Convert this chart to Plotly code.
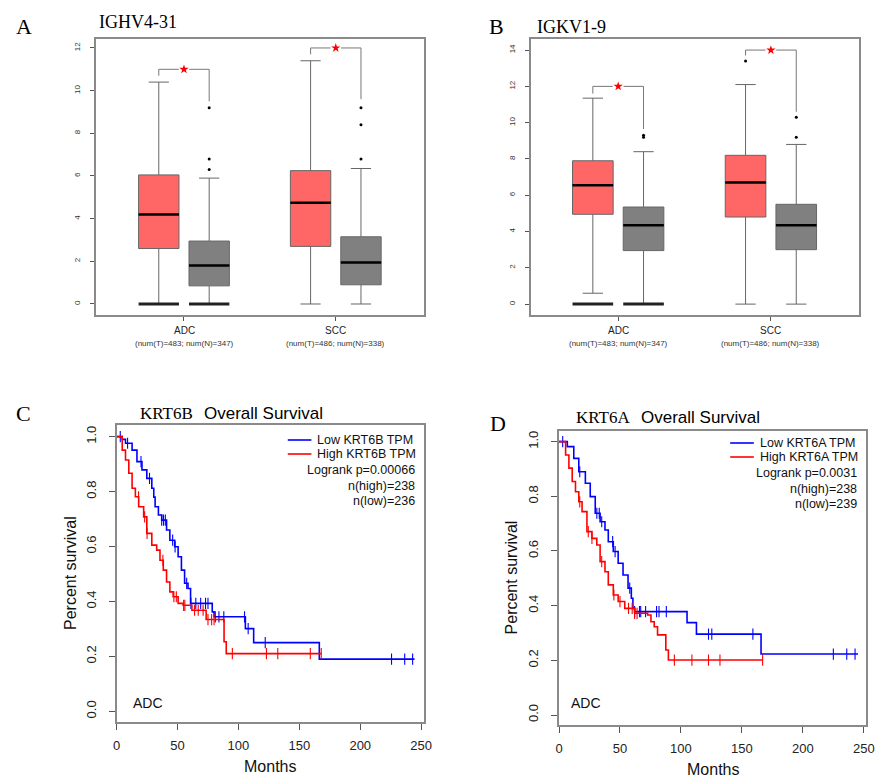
import plotly.graph_objects as go

W, H = 885, 778

# ---------------- DATA ----------------
box_categories = ["ADC", "SCC"]
box_sublabels = ["(num(T)=483; num(N)=347)", "(num(T)=486; num(N)=338)"]

# Panel A: IGHV4-31
A_gene = "IGHV4-31"
A_tumor_q1 = [2.6, 2.7]
A_tumor_med = [4.2, 4.75]
A_tumor_q3 = [6.05, 6.25]
A_tumor_lo = [0.0, 0.0]
A_tumor_hi = [10.4, 11.4]
A_tumor_out = [[], []]
A_normal_q1 = [0.85, 0.9]
A_normal_med = [1.8, 1.95]
A_normal_q3 = [2.95, 3.15]
A_normal_lo = [0.0, 0.0]
A_normal_hi = [5.9, 6.35]
A_normal_out = [[6.3, 6.8, 9.2], [6.8, 8.4, 9.2]]
A_zero_heavy = [True, False]
A_bracket = [11.0, 12.0]
A_bracket_left_end = [10.7, 11.7]
A_bracket_right_end = [9.5, 9.6]
A_yticks = [0, 2, 4, 6, 8, 10, 12]

# Panel B: IGKV1-9
B_gene = "IGKV1-9"
B_tumor_q1 = [4.95, 4.8]
B_tumor_med = [6.55, 6.7]
B_tumor_q3 = [7.9, 8.2]
B_tumor_lo = [0.6, 0.0]
B_tumor_hi = [11.35, 12.1]
B_tumor_out = [[], [13.4]]
B_normal_q1 = [2.95, 3.0]
B_normal_med = [4.35, 4.35]
B_normal_q3 = [5.35, 5.5]
B_normal_lo = [0.0, 0.0]
B_normal_hi = [8.4, 8.8]
B_normal_out = [[9.2, 9.3], [9.2, 10.3]]
B_zero_heavy = [True, False]
B_bracket = [12.0, 14.0]
B_bracket_left_end = [11.6, 13.7]
B_bracket_right_end = [9.65, 10.6]
B_yticks = [0, 2, 4, 6, 8, 10, 12, 14]

# Panel C: KRT6B overall survival
C_gene = "KRT6B"
C_low_t = [0, 4.6, 7.3, 12.7, 16.7, 20.8, 24.8, 28.9, 30.5, 31.6, 34.3, 37, 41, 43.7, 47.7, 50.5,
           53.2, 55.8, 58.6, 60.7, 78.5, 80, 105.7, 112.5, 166.4, 244.6]
C_low_s = [1.0, 0.99, 0.976, 0.951, 0.909, 0.879, 0.848, 0.812, 0.78, 0.745, 0.715, 0.696, 0.66, 0.623,
           0.599, 0.5625, 0.514, 0.466, 0.447, 0.393, 0.362, 0.344, 0.301, 0.25, 0.19, 0.19]
C_low_cens = [3, 9, 20, 27, 37, 38.5, 40, 46, 48, 57.5, 61, 65, 69, 73, 75, 81, 84, 88, 105, 108, 122,
              225.7, 236.5, 243]
C_high_t = [0, 4.6, 7.3, 10, 12.7, 15.4, 18.1, 22.2, 24.8, 28.9, 32.9, 35.6, 38.3, 41, 43.7, 46.4,
            50.5, 54.6, 61.8, 73.5, 88.2, 90, 168]
C_high_s = [1.0, 0.951, 0.915, 0.867, 0.812, 0.781, 0.745, 0.708, 0.648, 0.605, 0.587, 0.55, 0.514,
            0.471, 0.435, 0.417, 0.393, 0.386, 0.368, 0.334, 0.253, 0.21, 0.21]
C_high_cens = [18, 23, 25, 38, 47, 49, 55, 56, 64, 67, 71, 75, 78, 80, 95, 123, 132.3, 159, 168]
C_legend = ["Low KRT6B TPM", "High KRT6B TPM"]
C_stats = ["Logrank p=0.00066", "n(high)=238", "n(low)=236"]

# Panel D: KRT6A overall survival
D_gene = "KRT6A"
D_low_t = [0, 6.8, 12.1, 16.2, 21.6, 25.6, 29.7, 33.7, 37.7, 40.4, 44.5, 48.5, 52.5, 56.6, 59.3,
           60.6, 62, 105, 112.7, 165.7, 245.2]
D_low_s = [1.0, 0.982, 0.939, 0.89, 0.848, 0.799, 0.738, 0.707, 0.677, 0.634, 0.598, 0.555, 0.512,
           0.464, 0.427, 0.39, 0.378, 0.338, 0.296, 0.223, 0.223]
D_low_cens = [3, 17, 31, 33, 35, 44, 46, 58, 62, 66, 67, 71, 80, 82, 88, 122.6, 125.3, 159, 225, 236,
              242.8]
D_high_t = [0, 5.4, 8.1, 10.8, 13.5, 16.2, 18.9, 22.9, 27, 31, 33.7, 37.7, 40.4, 44.5, 48.5, 53.9,
            62, 72.7, 75.4, 78.1, 80.8, 87.6, 89.7, 167]
D_high_s = [1.0, 0.951, 0.903, 0.854, 0.817, 0.78, 0.744, 0.671, 0.646, 0.622, 0.561, 0.524, 0.476,
            0.439, 0.415, 0.39, 0.372, 0.366, 0.341, 0.323, 0.293, 0.238, 0.201, 0.201]
D_high_cens = [17, 24, 27, 35, 45, 50, 57, 60, 62, 64, 94.6, 109, 122.6, 132, 167]
D_legend = ["Low KRT6A TPM", "High KRT6A TPM"]
D_stats = ["Logrank p=0.0031", "n(high)=238", "n(low)=239"]

km_xticks = [0, 50, 100, 150, 200, 250]
km_yticks = [0.0, 0.2, 0.4, 0.6, 0.8, 1.0]

# ---------------- STYLE ----------------
SANS = "Liberation Sans, Arial, sans-serif"
SERIF = "Liberation Serif, Times New Roman, serif"
RED_FILL = "#FF6666"
GRAY_FILL = "#808080"
FRAME = "#8a8a8a"
OFF = 0.166
BW = 0.266


def px(x):
    return x / W


def py(y):
    return 1 - y / H


fig = go.Figure()


def add_boxpanel(xa, ya, t_q1, t_med, t_q3, t_lo, t_hi, t_out,
                 n_q1, n_med, n_q3, n_lo, n_hi, n_out, zero_heavy,
                 bracket, b_left, b_right):
    xs = list(range(len(box_categories)))
    groups = [(-OFF, RED_FILL, t_q1, t_med, t_q3, t_lo, t_hi, t_out),
              (OFF, GRAY_FILL, n_q1, n_med, n_q3, n_lo, n_hi, n_out)]
    for off, fill, q1, med, q3, lo, hi, outs in groups:
        pos = [x + off for x in xs]
        fig.add_trace(go.Box(
            x=pos, q1=q1, median=med, q3=q3, lowerfence=lo, upperfence=hi,
            width=BW, whiskerwidth=0.5, fillcolor=fill,
            line=dict(color="#666666", width=1), boxpoints=False,
            xaxis=xa, yaxis=ya, showlegend=False, hoverinfo="skip"))
        mx, my = [], []
        for p, m in zip(pos, med):
            mx += [p - BW / 2, p + BW / 2, None]
            my += [m, m, None]
        fig.add_trace(go.Scatter(x=mx, y=my, mode="lines",
                                 line=dict(color="black", width=2.5),
                                 xaxis=xa, yaxis=ya, showlegend=False, hoverinfo="skip"))
        zx, zy = [], []
        for p, hv in zip(pos, zero_heavy):
            if hv:
                zx += [p - BW / 2, p + BW / 2, None]
                zy += [0, 0, None]
        if zx:
            fig.add_trace(go.Scatter(x=zx, y=zy, mode="lines",
                                     line=dict(color="#222222", width=3),
                                     xaxis=xa, yaxis=ya, showlegend=False, hoverinfo="skip"))
        ox, oy = [], []
        for p, o in zip(pos, outs):
            ox += [p] * len(o)
            oy += o
        if ox:
            fig.add_trace(go.Scatter(x=ox, y=oy, mode="markers",
                                     marker=dict(color="black", size=3),
                                     xaxis=xa, yaxis=ya, showlegend=False, hoverinfo="skip"))
    bx, by, sx, sy = [], [], [], []
    gap = 0.035
    for x, b, le, re in zip(xs, bracket, b_left, b_right):
        l, r = x - OFF, x + OFF
        bx += [l, l, x - gap, None, x + gap, r, r, None]
        by += [le, b, b, None, b, b, re, None]
        sx.append(x)
        sy.append(b)
    fig.add_trace(go.Scatter(x=bx, y=by, mode="lines", line=dict(color="#777777", width=1),
                             xaxis=xa, yaxis=ya, showlegend=False, hoverinfo="skip"))
    fig.add_trace(go.Scatter(x=sx, y=sy, mode="markers",
                             marker=dict(symbol="star", color="red", size=7),
                             xaxis=xa, yaxis=ya, showlegend=False, hoverinfo="skip"))


add_boxpanel("x", "y", A_tumor_q1, A_tumor_med, A_tumor_q3, A_tumor_lo, A_tumor_hi, A_tumor_out,
             A_normal_q1, A_normal_med, A_normal_q3, A_normal_lo, A_normal_hi, A_normal_out,
             A_zero_heavy, A_bracket, A_bracket_left_end, A_bracket_right_end)
add_boxpanel("x2", "y2", B_tumor_q1, B_tumor_med, B_tumor_q3, B_tumor_lo, B_tumor_hi, B_tumor_out,
             B_normal_q1, B_normal_med, B_normal_q3, B_normal_lo, B_normal_hi, B_normal_out,
             B_zero_heavy, B_bracket, B_bracket_left_end, B_bracket_right_end)


def step_at(ts, ss, t):
    v = ss[0]
    for ti, si in zip(ts, ss):
        if ti <= t:
            v = si
    return v


def add_km(xa, ya, lt, ls, lc, ht, hs, hc):
    for t, s, c, col in [(lt, ls, lc, "blue"), (ht, hs, hc, "red")]:
        fig.add_trace(go.Scatter(x=t, y=s, mode="lines", line=dict(color=col, width=1.6, shape="hv"),
                                 xaxis=xa, yaxis=ya, showlegend=False, hoverinfo="skip"))
        fig.add_trace(go.Scatter(x=c, y=[step_at(t, s, ci) for ci in c], mode="markers",
                                 marker=dict(symbol="line-ns-open", size=8, color=col,
                                             line=dict(color=col, width=1.1)),
                                 xaxis=xa, yaxis=ya, showlegend=False, hoverinfo="skip"))


add_km("x3", "y3", C_low_t, C_low_s, C_low_cens, C_high_t, C_high_s, C_high_cens)
add_km("x4", "y4", D_low_t, D_low_s, D_low_cens, D_high_t, D_high_s, D_high_cens)


def box_x(dom, rng):
    return dict(domain=[px(dom[0]), px(dom[1])], range=rng, showgrid=False, zeroline=False,
                showline=True, mirror=True, linecolor=FRAME, linewidth=1.5,
                tickmode="array", tickvals=[0, 1], ticktext=["", ""], ticks="outside",
                ticklen=4, tickcolor="#555", fixedrange=True)


def box_y(dom, rng, tv):
    return dict(domain=[py(dom[1]), py(dom[0])], range=rng, showgrid=False, zeroline=False,
                showline=True, mirror=True, linecolor=FRAME, linewidth=1.5,
                tickmode="array", tickvals=tv, ticks="outside", ticklen=4, tickcolor="#555",
                tickangle=-90, tickfont=dict(family=SANS, size=8, color="#333"),
                ticklabelstandoff=7, fixedrange=True)


def km_x(dom, rng):
    return dict(domain=[px(dom[0]), px(dom[1])], range=rng, showgrid=False, zeroline=False,
                showline=True, mirror=True, linecolor=FRAME, linewidth=1.5,
                tickmode="array", tickvals=km_xticks, ticks="outside", ticklen=6,
                tickcolor="#555", tickfont=dict(family=SANS, size=13, color="#222"),
                ticklabelstandoff=5, fixedrange=True)


def km_y(dom, rng):
    return dict(domain=[py(dom[1]), py(dom[0])], range=rng, showgrid=False, zeroline=False,
                showline=True, mirror=True, linecolor=FRAME, linewidth=1.5,
                tickmode="array", tickvals=km_yticks, tickformat=".1f", ticks="outside",
                ticklen=6, tickcolor="#555", tickangle=-90,
                tickfont=dict(family=SANS, size=13, color="#222"),
                ticklabelstandoff=8, fixedrange=True)


fig.update_layout(
    width=W, height=H, margin=dict(l=0, r=0, t=0, b=0),
    paper_bgcolor="white", plot_bgcolor="white", showlegend=False,
    xaxis=box_x((93.3, 426.7), [-0.58, 1.584]),
    yaxis=box_y((39, 315), [-0.516, 12.42], A_yticks),
    xaxis2=box_x((535, 867.3), [-0.57, 1.574]),
    yaxis2=box_y((39, 315), [-0.6, 14.61], B_yticks),
    xaxis3=km_x((114.3, 426.7), [0, 252.7]),
    yaxis3=km_y((425, 722), [-0.039, 1.0425]),
    xaxis4=km_x((563.3, 875), [0, 251.9]),
    yaxis4=km_y((431, 725), [-0.0366, 1.039]),
)
for i in ["", "2", "3", "4"]:
    fig.layout["xaxis" + i].anchor = "y" + i
    fig.layout["yaxis" + i].anchor = "x" + i

ann = []
shapes = []


def text(x, y, s, size, family=SANS, color="#111", xanchor="center", angle=0):
    ann.append(dict(x=px(x), y=py(y), xref="paper", yref="paper", text=s, showarrow=False,
                    font=dict(family=family, size=size, color=color), xanchor=xanchor,
                    yanchor="middle", textangle=angle, borderpad=0))


text(20, 27, "A", 22, SERIF, "black")
text(500, 27, "B", 22, SERIF, "black")
text(20, 413, "C", 22, SERIF, "black")
text(501, 424, "D", 22, SERIF, "black")
text(95, 22, A_gene, 18, SERIF, "black", "left")
text(540, 27, B_gene, 18, SERIF, "black", "left")

for cx in [(182.7, 336.7), (623.3, 778.3)]:
    for x, cat, sub in zip(cx, box_categories, box_sublabels):
        text(x, 330, cat, 10, SANS, "#222")
        text(x, 344, sub, 8, SANS, "#333")


def km_labels(gene, title_x, title_y, ylab_x, ylab_y, months_x, months_y, adc_x, adc_y,
              leg_x0, leg_x1, leg_y, text_right, legend, stats):
    text(title_x, title_y, gene, 17, SERIF, "black", "right")
    text(title_x + 9, title_y, "Overall Survival", 17, SANS, "black", "left")
    text(ylab_x, ylab_y, "Percent survival", 16, SANS, "#111", angle=-90)
    text(months_x, months_y, "Months", 16, SANS, "#111")
    text(adc_x, adc_y, "ADC", 14, SANS, "#111", "left")
    for k, (lab, col) in enumerate(zip(legend, ["blue", "red"])):
        yy = leg_y + 14 * k
        shapes.append(dict(type="line", xref="paper", yref="paper", x0=px(leg_x0), x1=px(leg_x1),
                           y0=py(yy), y1=py(yy), line=dict(color=col, width=1.6)))
        text(leg_x1 + 5, yy, lab, 12.5, SANS, "#111", "left")
    for k, s in enumerate(stats):
        text(text_right, leg_y + 30 + 15.7 * k, s, 12.5, SANS, "#111", "right")


km_labels(C_gene, 193, 413, 67, 573, 270, 766, 130, 703, 288, 312, 440, 418, C_legend, C_stats)
km_labels(D_gene, 636, 417, 515, 577, 720, 769, 574, 703, 737, 761, 443, 867, D_legend, D_stats)

fig.update_layout(annotations=ann, shapes=shapes)
fig.write_html("out.html", config={"displayModeBar": False},
               post_script="document.body.style.margin='0';document.body.style.overflow='hidden';")
